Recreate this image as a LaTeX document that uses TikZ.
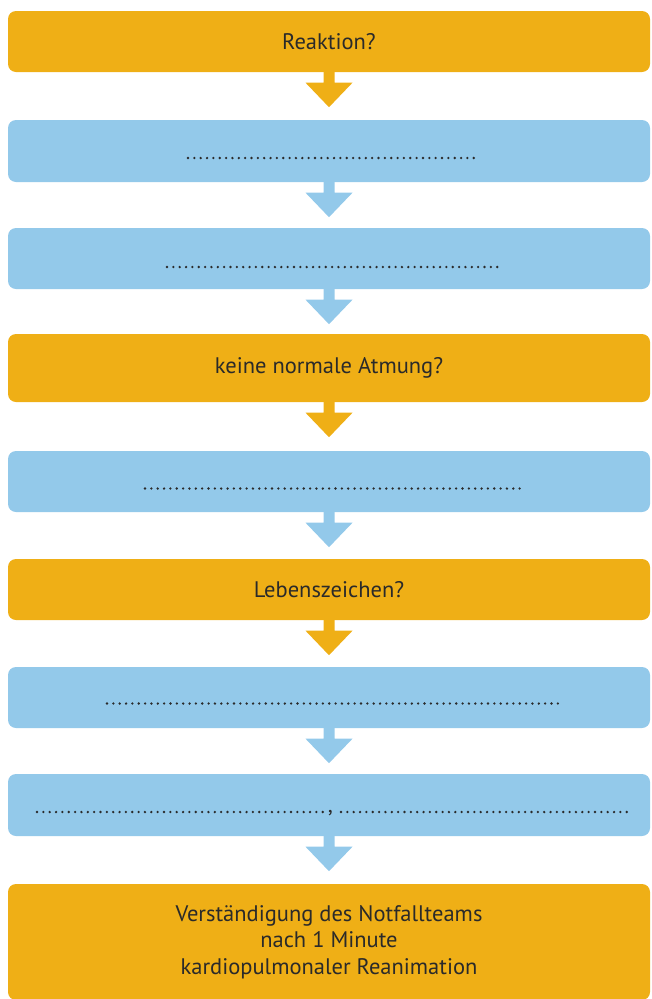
\documentclass[tikz,border=0pt]{standalone}
\usepackage{fontspec}
\setmainfont{PT Sans}
\usetikzlibrary{calc}
\definecolor{orng}{HTML}{EFAF16}
\definecolor{lblue}{HTML}{93C9EA}
\definecolor{txt}{HTML}{2A2A2A}
\tikzset{
  flowbox/.style={rectangle, rounded corners=8pt, inner sep=0pt, minimum width=642pt, text=txt, font=\fontsize{22.5pt}{26.5pt}\selectfont, align=center},
  obox/.style={flowbox, fill=orng},
  bbox/.style={flowbox, fill=lblue},
  dotline/.style={txt, line width=2.6pt, line cap=round, dash pattern=on 0pt off 6.35pt},
}
\newcommand\blockarrow[2]{%
  \fill[#1] ($(#2.south)+(-5.5,-0.5)$) -- ($(#2.south)+(-5.5,10.5)$) -- ($(#2.south)+(-23.5,10.5)$) -- ($(#2.south)+(0,35)$) -- ($(#2.south)+(23.5,10.5)$) -- ($(#2.south)+(5.5,10.5)$) -- ($(#2.south)+(5.5,-0.5)$) -- cycle;}
\begin{document}
\begin{tikzpicture}[x=1pt,y=-1pt]
\useasboundingbox (0,0) rectangle (652,999);
\begin{scope}
\clip (0,0) rectangle (652,999);
\node[obox, minimum height=61pt] (b1) at (329,41.5) {Reaktion?};
\node[bbox, minimum height=62pt] (b2) at (329,151) {};
\node[bbox, minimum height=61pt] (b3) at (329,258.5) {};
\node[obox, minimum height=68pt] (b4) at (329,368) {keine normale Atmung?};
\node[bbox, minimum height=61pt] (b5) at (329,481.5) {};
\node[obox, minimum height=61pt] (b6) at (329,589.5) {Lebenszeichen?};
\node[bbox, minimum height=61pt] (b7) at (329,697.5) {};
\node[bbox, minimum height=62pt] (b8) at (329,805) {};
\node[obox, minimum height=116pt] (b9) at (329,942) {Verständigung des Notfallteams\\nach 1 Minute\\kardiopulmonaler Reanimation};
\end{scope}
\blockarrow{orng}{b1}
\blockarrow{lblue}{b2}
\blockarrow{lblue}{b3}
\blockarrow{orng}{b4}
\blockarrow{lblue}{b5}
\blockarrow{orng}{b6}
\blockarrow{lblue}{b7}
\blockarrow{lblue}{b8}
\draw[dotline] ($(b2.center)+(-141,7)$) -- ($(b2.center)+(149.5,7)$);
\draw[dotline] ($(b3.center)+(-162,8.5)$) -- ($(b3.center)+(171,8.5)$);
\draw[dotline] ($(b5.center)+(-184,7)$) -- ($(b5.center)+(193,7)$);
\draw[dotline] ($(b7.center)+(-222,6)$) -- ($(b7.center)+(229,6)$);
\draw[dotline] ($(b8.center)+(-292,7)$) -- ($(b8.center)+(-3,7)$);
\draw[dotline] ($(b8.center)+(12,7)$) -- ($(b8.center)+(301,7)$);
\node[txt, font=\fontsize{22.5pt}{26.5pt}\selectfont, anchor=base, inner sep=0pt] (comma) at ($(b8.center)+(1.5,7)$) {,};
\end{tikzpicture}
\end{document}
